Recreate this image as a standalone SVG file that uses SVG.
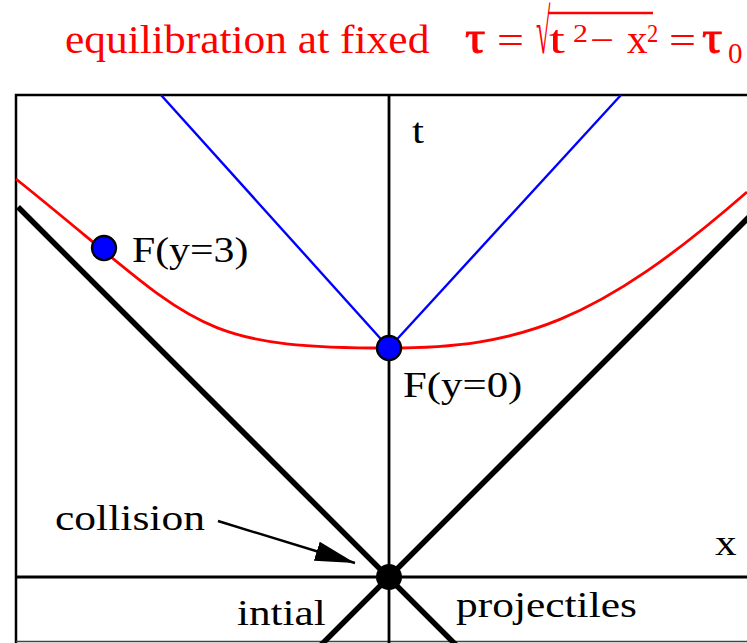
<svg xmlns="http://www.w3.org/2000/svg" width="747" height="643" viewBox="0 0 747 643">
<style>
text{font-family:"Liberation Serif","Times New Roman",serif;fill:#000}
.lbl{font-size:36px}
.red{fill:#ff0000}
.frame{stroke:#000;stroke-width:2.5;fill:none}
.light{stroke:#000;stroke-width:2.8;fill:none}
.thick{stroke:#000;stroke-width:5.5;fill:none}
.blue{stroke:#0000ff;stroke-width:2.4;fill:none}
.rcurve{stroke:#ff0000;stroke-width:2.8;fill:none}
.dot{fill:#0000ff;stroke:#000;stroke-width:2.4}
.tau{stroke:#ff0000;stroke-width:0.9}
</style>
<defs>
<marker id="ah" viewBox="0 0 40 20" refX="40" refY="10" markerWidth="40" markerHeight="20" markerUnits="userSpaceOnUse" orient="auto">
<path d="M0,0 L40,10 L0,20 Z" fill="#000"/>
</marker>
</defs>
<rect width="747" height="643" fill="#fff"/>
<g id="title">
<text class="red" transform="translate(65,53) scale(1.06,1)" font-size="41">equilibration at fixed</text>
<text class="red tau" transform="translate(465,53) scale(1.1,1)" font-size="46">τ</text>
<text class="red" x="497" y="53" font-size="38" textLength="27" lengthAdjust="spacingAndGlyphs">=</text>
<text class="red" transform="translate(536,53) scale(0.55,1.33)" font-size="48">√</text>
<line x1="548" y1="13" x2="653" y2="13" stroke="#ff0000" stroke-width="2.5"/>
<text class="red" transform="translate(549,53) scale(1.4,1)" font-size="41">t</text>
<text class="red" transform="translate(573,42) scale(1.2,1)" font-size="25">2</text>
<text class="red" x="590" y="53" font-size="38" textLength="24" lengthAdjust="spacingAndGlyphs">−</text>
<text class="red" transform="translate(627,53) scale(1.0,1)" font-size="41">x</text>
<text class="red" transform="translate(647,42) scale(0.9,1)" font-size="25">2</text>
<text class="red" x="669" y="53" font-size="38" textLength="27" lengthAdjust="spacingAndGlyphs">=</text>
<text class="red tau" transform="translate(702,53) scale(1.1,1)" font-size="46">τ</text>
<text class="red" transform="translate(728,63)" font-size="29">0</text>
</g>
<g id="frame">
<polyline class="frame" points="747,95 16,95 16,643"/>
<line x1="16" y1="641.5" x2="747" y2="641.5" stroke="#444" stroke-width="1.5"/>
</g>
<g id="connectors">
<line class="light" x1="16" y1="577" x2="747" y2="577"/>
<line class="light" x1="389" y1="95" x2="389" y2="643"/>
<line class="thick" x1="18" y1="207" x2="456" y2="645"/>
<line class="thick" x1="749" y1="217" x2="321" y2="645"/>
<line class="blue" x1="389" y1="348" x2="161" y2="95"/>
<line class="blue" x1="389" y1="348" x2="621" y2="95"/>
<path class="rcurve" d="M16,179 C196,323 189,348 389,348 C519,348 597,323 747,192"/>
<line x1="218" y1="521" x2="355" y2="563" stroke="#000" stroke-width="2.4" marker-end="url(#ah)"/>
</g>
<g id="axis-t"><text class="lbl" transform="translate(412,143) scale(1.2,1)">t</text></g>
<g id="axis-x"><text class="lbl" transform="translate(715,555) scale(1.2,1)">x</text></g>
<g id="F3">
<circle class="dot" cx="104" cy="248" r="12"/>
<text class="lbl" transform="translate(132,262) scale(1.16,1)">F(y=3)</text>
</g>
<g id="F0">
<circle class="dot" cx="389" cy="348" r="12"/>
<text class="lbl" transform="translate(403,397) scale(1.19,1)">F(y=0)</text>
</g>
<g id="collision">
<circle cx="389" cy="577" r="13" fill="#000"/>
<text class="lbl" transform="translate(55,530) scale(1.21,1)">collision</text>
</g>
<g id="initial"><text class="lbl" transform="translate(237,625) scale(1.2,1)">intial</text></g>
<g id="projectiles"><text class="lbl" transform="translate(456,617) scale(1.207,1)">projectiles</text></g>
</svg>
